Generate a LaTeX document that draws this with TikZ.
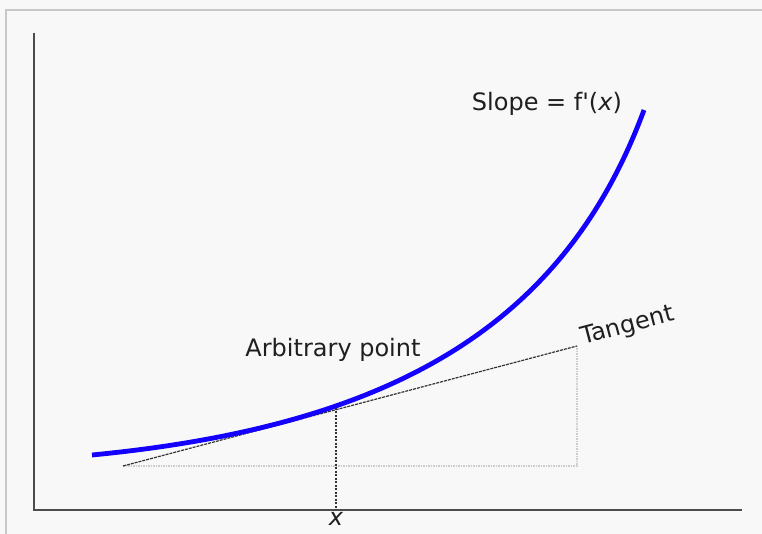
\documentclass[tikz,border=0pt]{standalone}
\usepackage{fontspec}
\setmainfont{DejaVu Sans}
\usetikzlibrary{positioning, calc}
\definecolor{bggray}{HTML}{F8F8F8}
\definecolor{framegray}{HTML}{C8C8C8}
\definecolor{curveblue}{HTML}{1400FF}

\begin{document}
\begin{tikzpicture}[x=10pt, y=10pt,
    labeltext/.style={font=\fontsize{24}{28}\selectfont, text=black!88, inner sep=1pt},
    guide/.style={black!80, line width=1.2pt, dash pattern=on 3pt off 1pt},
    faint/.style={black!20, line width=1.3pt, dash pattern=on 1.5pt off 1pt}]
    % Background and frame
    \useasboundingbox (0,0) rectangle (76.2,53.4);
    \fill[bggray] (0,0) rectangle (76.2,53.4);
    \draw[framegray, line width=2pt] (0.6,0) -- (0.6,52.4) -- (76.2,52.4);

    % Axes
    \coordinate (origin) at (3.4,2.4);
    \coordinate (ytop) at (3.4,50.1);
    \coordinate (xend) at (74.2,2.4);
    \draw[black!70, line width=1.7pt] (ytop) -- (origin) -- (xend);

    % Tangent and guide lines
    \coordinate (tstart) at (12.3,6.8);
    \coordinate (tend) at (57.7,18.8);
    \coordinate (point) at (33.6,12.6);
    \coordinate (corner) at (57.7,6.8);
    \coordinate (foot) at (33.6,2.4);
    \draw[faint] (tstart) -- (corner) -- (tend);
    \draw[guide, dash pattern=on 2pt off 1.5pt] (point) -- (foot);
    \draw[guide] (tstart) -- (tend);

    % Curve
    \coordinate (cstart) at (9.2,7.9);
    \coordinate (cend) at (64.4,42.4);
    \draw[curveblue, line width=4.8pt] (cstart) .. controls (39.2,10.8) and (56.4,20.8) .. (cend);

    % Labels
    \node[labeltext] (slope) at (54.7,43.0) {Slope = f\textquotesingle(\textit{x})};
    \node[labeltext] (arb) at (33.3,18.4) {Arbitrary point};
    \node[labeltext, anchor=base west, rotate=14.8] (tan) at ($(tend)+(0.5,0.1)$) {Tangent};
    \node[labeltext, below=1pt of foot] (xlab) {\textit{x}};
\end{tikzpicture}
\end{document}
